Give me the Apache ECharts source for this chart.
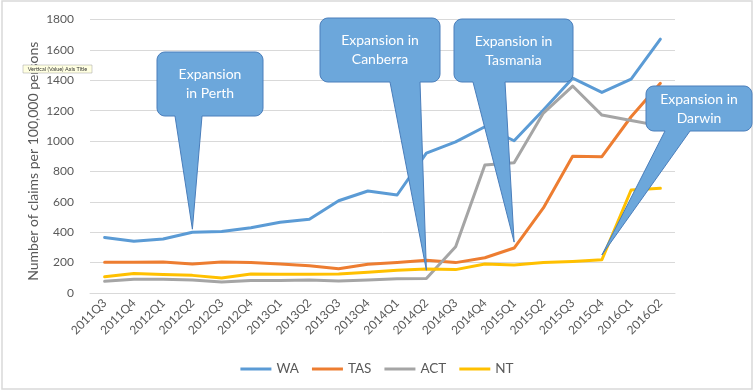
<!DOCTYPE html>
<html>
<head>
<meta charset="utf-8">
<script src="https://cdn.jsdelivr.net/npm/echarts@6/dist/echarts.min.js"></script>
<style>html,body{margin:0;padding:0;background:#fff;}#c{width:754px;height:391px;}</style>
</head>
<body>
<div id="c"></div>
<script>
const categories = ['2011Q3','2011Q4','2012Q1','2012Q2','2012Q3','2012Q4','2013Q1','2013Q2','2013Q3','2013Q4','2014Q1','2014Q2','2014Q3','2014Q4','2015Q1','2015Q2','2015Q3','2015Q4','2016Q1','2016Q2'];
const WA  = [365, 340, 355, 400, 405, 430, 465, 485, 607, 671, 645, 921, 995, 1094, 1002, 1204, 1414, 1320, 1408, 1671];
const TAS = [202, 202, 204, 191, 204, 200, 191, 180, 160, 189, 200, 215, 200, 232, 296, 560, 900, 897, 1160, 1380];
const ACT = [77, 90, 90, 85, 72, 83, 83, 85, 79, 86, 94, 96, 305, 842, 857, 1184, 1362, 1171, 1135, 1100];
const NT  = [107, 129, 121, 116, 99, 125, 123, 123, 125, 136, 149, 158, 154, 191, 184, 200, 208, 219, 678, 689];
const yTicks = [0, 200, 400, 600, 800, 1000, 1200, 1400, 1600, 1800];

// callouts: label lines and the data point they point at
const calloutText = [['Expansion','in Perth'], ['Expansion in','Canberra'], ['Expansion in','Tasmania'], ['Expansion in','Darwin']];
const calloutAnchor = [['2012Q2', 420], ['2014Q2', 150], ['2015Q1', 335], ['2015Q4', 250]];

const FONT = 'Lato, "Open Sans", sans-serif';
const chart = echarts.init(document.getElementById('c'), null, {renderer: 'canvas'});

function mk(name, data, color) {
  return {
    name, type: 'line', data, symbol: 'none', showSymbol: false, smooth: false,
    lineStyle: {width: 3, color, cap: 'round', join: 'round'},
    itemStyle: {color}, emphasis: {disabled: true}, animation: false, z: 3
  };
}

chart.setOption({
  animation: false,
  backgroundColor: '#ffffff',
  grid: {left: 90, right: 79, top: 19.5, bottom: 98},
  legend: {
    top: 357, left: 'center', icon: 'rect',
    itemWidth: 31, itemHeight: 3, itemGap: 13,
    textStyle: {fontFamily: FONT, fontSize: 13.5, color: '#595959'},
    data: ['WA','TAS','ACT','NT']
  },
  xAxis: {
    type: 'category', data: categories, boundaryGap: true,
    axisLine: {show: true, lineStyle: {color: '#D9D9D9', width: 1}},
    axisTick: {show: false},
    axisLabel: {rotate: 45, interval: 0, margin: 8, fontFamily: FONT, fontSize: 12, color: '#595959'}
  },
  yAxis: {
    type: 'value', min: yTicks[0], max: yTicks[yTicks.length - 1], interval: 200,
    name: 'Number of claims per 100,000 persons', nameLocation: 'middle', nameGap: 50,
    nameMoveOverlap: false,
    nameRotate: 90,
    nameTextStyle: {fontFamily: FONT, fontSize: 14, color: '#595959', padding: [0, 10, 0, 0]},
    axisLine: {show: false}, axisTick: {show: false},
    axisLabel: {margin: 16, fontFamily: FONT, fontSize: 12, color: '#595959', formatter: v => String(v)},
    splitLine: {lineStyle: {color: '#D9D9D9', width: 1}}
  },
  series: [mk('WA', WA, '#5B9BD5'), mk('TAS', TAS, '#ED7D31'), mk('ACT', ACT, '#A5A5A5'), mk('NT', NT, '#FFC000')]
});

// callout box layout (pixels): [x, y, w, h, wedgeBaseLeft, wedgeBaseRight]
const boxes = [
  [157, 52, 106, 64, 175, 202],
  [320, 18, 120, 64, 390, 420],
  [454, 19, 119, 63, 473, 505],
  [646, 86, 106, 45, 665, 690]
];

function calloutPoly(b, tip) {
  const [x, y, w, h, b1, b2] = b;
  const r = 8, pts = [];
  function arc(cx, cy, a0, a1) {
    for (let i = 0; i <= 6; i++) {
      const a = (a0 + (a1 - a0) * i / 6) * Math.PI / 180;
      pts.push([cx + r * Math.cos(a), cy + r * Math.sin(a)]);
    }
  }
  arc(x + w - r, y + r, -90, 0);
  arc(x + w - r, y + h - r, 0, 90);
  pts.push([b2, y + h]); pts.push(tip); pts.push([b1, y + h]);
  arc(x + r, y + h - r, 90, 180);
  arc(x + r, y + r, 180, 270);
  return pts;
}

const graphics = [
  {type: 'rect', shape: {x: 2, y: 1, width: 750, height: 388}, style: {fill: 'none', stroke: '#D9D9D9', lineWidth: 1.5}, z: 0, silent: true}
];
boxes.forEach((b, i) => {
  const tip = chart.convertToPixel({xAxisIndex: 0, yAxisIndex: 0}, calloutAnchor[i]);
  graphics.push({type: 'polygon', shape: {points: calloutPoly(b, tip)}, style: {fill: '#6CA7DB', stroke: '#4A7EBB', lineWidth: 1}, z: 100, silent: true});
  const cx = b[0] + b[2] / 2;
  const cy = b[1] + b[3] / 2;
  graphics.push({type: 'text', x: cx, y: cy - 9.5, style: {text: calloutText[i][0], fill: '#ffffff', font: '14px ' + FONT, textAlign: 'center', textVerticalAlign: 'middle'}, z: 101, silent: true});
  graphics.push({type: 'text', x: cx, y: cy + 9.5, style: {text: calloutText[i][1], fill: '#ffffff', font: '14px ' + FONT, textAlign: 'center', textVerticalAlign: 'middle'}, z: 101, silent: true});
});
// tooltip-like note over the axis title
graphics.push({type: 'rect', shape: {x: 23, y: 65, width: 69, height: 8}, style: {fill: '#FFFFE1', stroke: '#A0A0A0', lineWidth: 0.5}, z: 110, silent: true});
graphics.push({type: 'text', x: 57.5, y: 69, style: {text: 'Vertical (Value) Axis Title', fill: '#333', font: '5.5px ' + FONT, textAlign: 'center', textVerticalAlign: 'middle'}, z: 111, silent: true});

chart.setOption({graphic: graphics});
</script>
</body>
</html>
